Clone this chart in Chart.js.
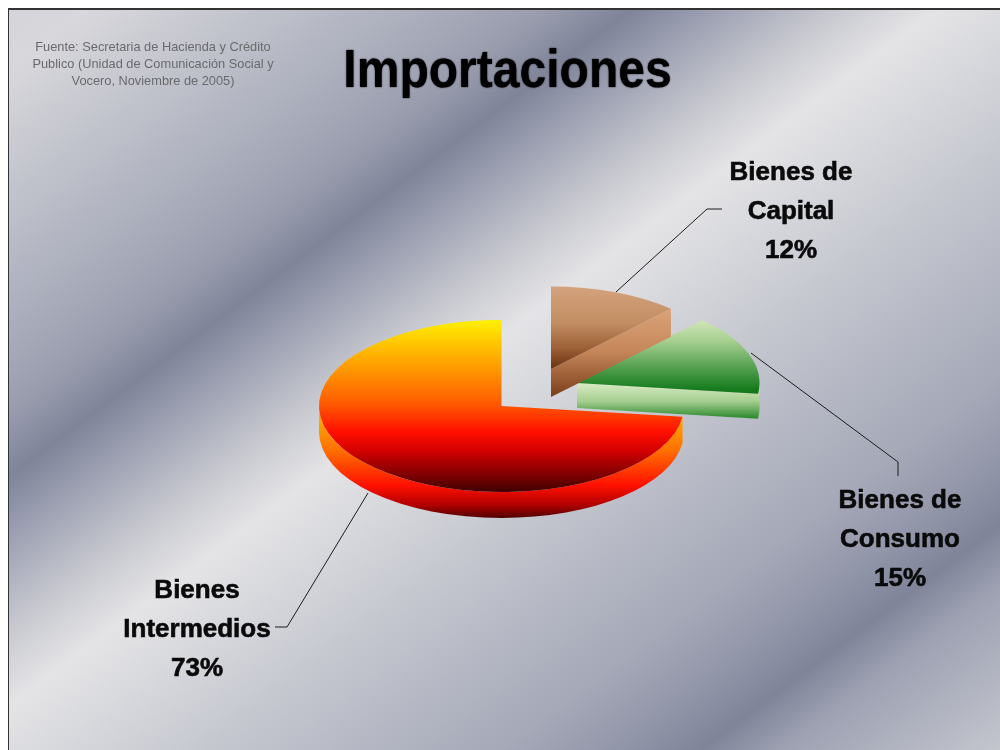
<!DOCTYPE html>
<html lang="es">
<head>
<meta charset="utf-8">
<title>Importaciones</title>
<style>
html,body{margin:0;padding:0;background:#fff;width:1000px;height:750px;overflow:hidden}
#frame{position:absolute;left:8px;top:8px;width:1100px;height:900px;border-left:1px solid #333;border-top:2px solid #333}
canvas{position:absolute;left:9px;top:10px;filter:blur(0.4px)}
</style>
</head>
<body>
<div id="frame"></div>
<canvas id="c" width="998" height="740"></canvas>
<script src="https://cdn.jsdelivr.net/npm/chart.js@4"></script>
<script>
const categories = ['Bienes de Capital', 'Bienes de Consumo', 'Bienes Intermedios'];
const shares = [12, 15, 73];
const labelLines = [['Bienes de', 'Capital'], ['Bienes de', 'Consumo'], ['Bienes', 'Intermedios']];
const titleText = 'Importaciones';
const sourceLines = ['Fuente: Secretaria de Hacienda y Crédito', 'Publico (Unidad de Comunicación Social y', 'Vocero, Noviembre de 2005)'];

// layout and style (page pixels)
const ORIGIN = {x: 9, y: 10};
const PIE = {ratio: 86 / 182.5};
const APEX = [{x: 551, y: 369}, {x: 577, y: 383}, {x: 501.5, y: 406}];
const SLICE_SCALE = [0.96, 1, 1];
const SLICE_DEPTH = [28, 25, 26];
const LABEL_POS = [{x: 791, y: 180}, {x: 900, y: 508}, {x: 197, y: 598}];
const LEADERS = [
  [[722, 209], [707, 209], [616, 292]],
  [[751, 353], [898, 462], [898, 476]],
  [[275, 627], [287, 627], [368, 493]]
];
const TOP_GRAD = [
  {from: 286, to: 369, stops: [[0, '#d4a27d'], [0.45, '#c18d62'], [0.75, '#9c5f36'], [1, '#6a3210']]},
  {from: 319, to: 390, stops: [[0, '#d2e7bb'], [0.3, '#a8d092'], [0.65, '#5ba455'], [1, '#147a1c']]},
  {from: 320, to: 492, stops: [[0, '#fff000'], [0.26, '#ffa000'], [0.47, '#ff6000'], [0.65, '#ff1000'], [0.76, '#d40000'], [1, '#400000']]}
];
const SIDE_GRAD = [
  {from: 305, to: 397, stops: [[0, '#dca67c'], [0.5, '#c5875a'], [1, '#7a3e1a']]},
  {from: 385, to: 418, stops: [[0, '#d4e8bf'], [0.5, '#a4cd8e'], [1, '#2c8a2e']]},
  {from: 410, to: 518, stops: [[0, '#ffb800'], [0.37, '#ff7000'], [0.7, '#ff1000'], [0.88, '#b00000'], [1, '#500000']]}
];
const BG_STOPS = [[0, '#d4d4d8'], [0.1, '#d8d8dc'], [0.45, '#a9adbb'], [0.56, '#989cad'], [0.644, '#7f8499'], [0.72, '#9a9eb0'], [0.85, '#c8c9d0'], [0.95, '#e4e4e6'], [1.2, '#c6c8d0'], [1.5, '#a5a9b8'], [1.62, '#9195a8'], [1.7, '#7f8499'], [1.78, '#9da1b2'], [2, '#c4c6ce']];

function localGradient(chart, spec, index) {
  const cy = (chart.chartArea.top + chart.chartArea.bottom) / 2;
  const ay = APEX[index].y, k = PIE.ratio * SLICE_SCALE[index];
  const g = chart.ctx.createLinearGradient(0, cy + (spec.from - ay) / k, 0, cy + (spec.to - ay) / k);
  spec.stops.forEach(s => g.addColorStop(s[0], s[1]));
  return g;
}
function pageGradient(ctx, spec) {
  const g = ctx.createLinearGradient(0, spec.from, 0, spec.to);
  spec.stops.forEach(s => g.addColorStop(s[0], s[1]));
  return g;
}

const piePlugin = {
  id: 'pie3d',
  beforeDraw(chart) {
    const ctx = chart.ctx, W = 1000, H = 750;
    const s = 2 / (1 / (W * W) + 1 / (H * H));
    ctx.save();
    ctx.translate(-ORIGIN.x, -ORIGIN.y);
    const g = ctx.createLinearGradient(0, 0, s / W, s / H);
    BG_STOPS.forEach(b => g.addColorStop(b[0] / 2, b[1]));
    ctx.fillStyle = g;
    ctx.fillRect(0, 0, W + 20, H + 20);
    ctx.restore();
    // condense and embolden the title glyphs around its centre
    const cx = chart.width / 2;
    ctx.save();
    ctx.shadowColor = '#000';
    ctx.shadowBlur = 1.5;
    ctx.translate(cx, 0);
    ctx.scale(0.9, 1);
    ctx.translate(-cx, 0);
  },
  beforeDatasetsDraw(chart) { chart.ctx.restore(); },
  beforeDatasetDraw(chart) {
    const ctx = chart.ctx;
    const arcs = chart.getDatasetMeta(0).data;
    for (let i = arcs.length - 1; i >= 0; i--) {
      const el = arcs[i], a = APEX[i], f = SLICE_SCALE[i];
      const rx = el.outerRadius * f, ry = rx * PIE.ratio, d = SLICE_DEPTH[i];
      ctx.save();
      ctx.translate(-ORIGIN.x, -ORIGIN.y);
      ctx.fillStyle = pageGradient(ctx, SIDE_GRAD[i]);
      const lo = Math.max(el.startAngle, 0), hi = Math.min(el.endAngle, Math.PI);
      if (hi > lo) {
        ctx.beginPath();
        ctx.ellipse(a.x, a.y, rx, ry, 0, lo, hi);
        ctx.ellipse(a.x, a.y + d, rx, ry, 0, hi, lo, true);
        ctx.closePath();
        ctx.fill();
      }
      if (el.endAngle > -Math.PI / 2 && el.endAngle < Math.PI / 2) {
        const tx = a.x + rx * Math.cos(el.endAngle), ty = a.y + ry * Math.sin(el.endAngle);
        ctx.beginPath();
        ctx.moveTo(a.x, a.y);
        ctx.lineTo(tx, ty);
        ctx.lineTo(tx, ty + d);
        ctx.lineTo(a.x, a.y + d);
        ctx.closePath();
        ctx.fill();
      }
      ctx.translate(a.x, a.y);
      ctx.scale(f, PIE.ratio * f);
      ctx.translate(-el.x, -el.y);
      el.draw(ctx);
      ctx.restore();
    }
    return false;
  },
  afterDraw(chart) {
    const ctx = chart.ctx;
    ctx.save();
    ctx.translate(-ORIGIN.x, -ORIGIN.y);
    ctx.strokeStyle = '#1c1c1c';
    ctx.lineWidth = 1;
    LEADERS.forEach(line => {
      ctx.beginPath();
      line.forEach((p, i) => i ? ctx.lineTo(p[0], p[1]) : ctx.moveTo(p[0], p[1]));
      ctx.stroke();
    });
    ctx.textAlign = 'center';
    ctx.textBaseline = 'alphabetic';
    ctx.font = 'bold 26px "Liberation Sans"';
    ctx.fillStyle = '#0a0a0a';
    ctx.strokeStyle = '#0a0a0a';
    ctx.lineWidth = 0.6;
    labelLines.forEach((lines, i) => {
      const rows = lines.concat(shares[i] + '%');
      rows.forEach((t, r) => {
        const y = LABEL_POS[i].y + r * 39;
        ctx.fillText(t, LABEL_POS[i].x, y);
        ctx.strokeText(t, LABEL_POS[i].x, y);
      });
    });
    ctx.font = '12.8px "Liberation Sans"';
    ctx.fillStyle = '#6a6a6e';
    sourceLines.forEach((t, r) => ctx.fillText(t, 153, 51 + r * 17));
    ctx.restore();
  }
};

new Chart(document.getElementById('c'), {
  type: 'pie',
  data: {
    labels: categories,
    datasets: [{
      data: shares,
      borderWidth: 0,
      backgroundColor: c => c.chart.chartArea ? localGradient(c.chart, TOP_GRAD[c.dataIndex], c.dataIndex) : '#888'
    }]
  },
  options: {
    responsive: false,
    animation: false,
    devicePixelRatio: 1,
    layout: {padding: {left: 316, right: 317, top: 0, bottom: 0}},
    plugins: {
      legend: {display: false},
      tooltip: {enabled: false},
      title: {
        display: true,
        text: titleText,
        color: '#000',
        font: {family: '"Liberation Sans"', size: 54, weight: 'bold', lineHeight: 1},
        padding: {top: 35, bottom: 10}
      }
    }
  },
  plugins: [piePlugin]
});
</script>
</body>
</html>
